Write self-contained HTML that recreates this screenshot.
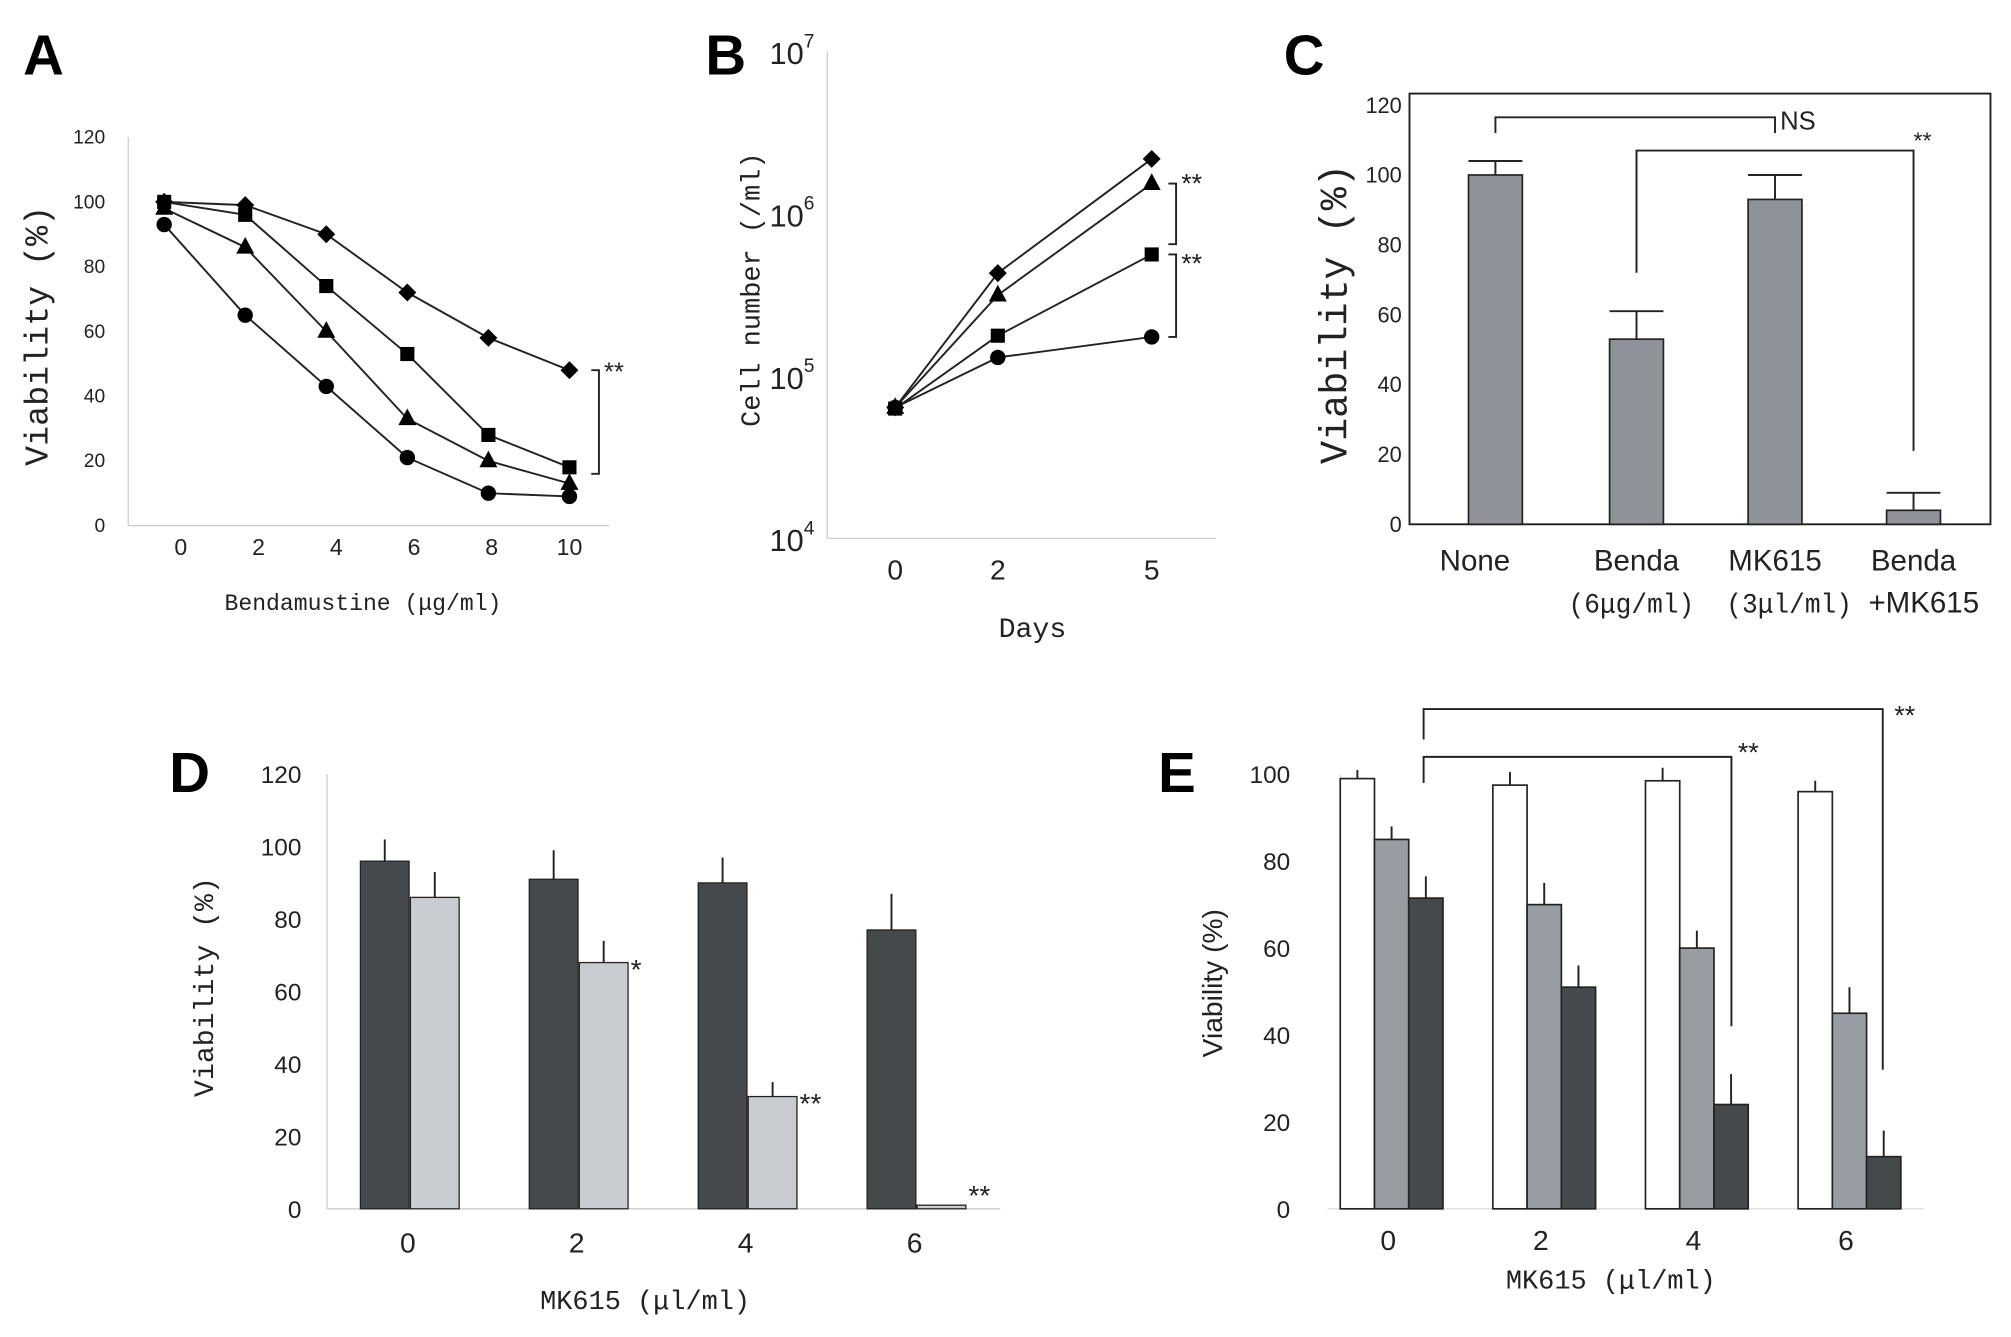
<!DOCTYPE html>
<html><head><meta charset="utf-8">
<style>
html,body{margin:0;padding:0;background:#fff;}
svg{display:block;}
text{font-family:"Liberation Sans","Noto Sans CJK JP",sans-serif;fill:#222;}
.mono{font-family:"Liberation Mono","Noto Sans CJK JP",monospace;}
</style></head>
<body>
<svg id="fig" width="2011" height="1337" viewBox="0 0 1568 1043" preserveAspectRatio="none" xmlns="http://www.w3.org/2000/svg">
<text x="18" y="58" font-size="44" font-weight="bold" style="fill:#000">A</text>
<text x="550" y="58" font-size="44" font-weight="bold" style="fill:#000">B</text>
<text x="1001" y="58" font-size="44" font-weight="bold" style="fill:#000">C</text>
<text x="132" y="618" font-size="44" font-weight="bold" style="fill:#000">D</text>
<text x="903" y="618" font-size="44" font-weight="bold" style="fill:#000">E</text>
<g id="A"></g>
<g id="B"></g>
<g id="C"></g>
<g id="D"></g>
<g id="E"></g>
</svg>
<script>
// Panel A data
const aDoses = [0, 2, 4, 6, 8, 10];
const aDiamond = [100, 99, 90, 72, 58, 48];
const aSquare = [100, 96, 74, 53, 28, 18];
const aTriangle = [98, 86, 60, 33, 20, 13];
const aCircle = [93, 65, 43, 21, 10, 9];
const aTicks = [0, 20, 40, 60, 80, 100, 120];
// Panel B data
const bDays = [0, 2, 5];
const bDiamond = [64000, 430000, 2170000];
const bTriangle = [64000, 315000, 1530000];
const bSquare = [63000, 177000, 560000];
const bCircle = [64000, 130000, 174000];
const bTickExp = [4, 5, 6, 7];
// Panel C data
const cCats = ["None", "Benda", "MK615", "Benda"];
const cSub = ["", "(6μg/ml)", "(3μl/ml)", "+MK615"];
const cVals = [100, 53, 93, 4];
const cErr = [4, 8, 7, 5];
const cTicks = [0, 20, 40, 60, 80, 100, 120];
// Panel D data
const dCats = ["0", "2", "4", "6"];
const dDark = [96, 91, 90, 77];
const dDarkErr = [6, 8, 7, 10];
const dLight = [86, 68, 31, 1];
const dLightErr = [7, 6, 4, 0];
const dStars = ["", "*", "**", "**"];
const dTicks = [0, 20, 40, 60, 80, 100, 120];
// Panel E data
const eCats = ["0", "2", "4", "6"];
const eWhite = [99, 97.5, 98.5, 96];
const eWhiteErr = [2, 3, 3, 2.5];
const eGray = [85, 70, 60, 45];
const eGrayErr = [3, 5, 4, 6];
const eDark = [71.5, 51, 24, 12];
const eDarkErr = [5, 5, 7, 6];
const eTicks = [0, 20, 40, 60, 80, 100];

const NS = "http://www.w3.org/2000/svg";
function mk(parent, tag, attrs, txt) {
  const el = document.createElementNS(NS, tag);
  for (const k in attrs) el.setAttribute(k, attrs[k]);
  if (txt !== undefined) el.textContent = txt;
  parent.appendChild(el);
  return el;
}
function marker(g, shape, x, y) {
  let el;
  if (shape === "diamond") el = mk(g, "polygon", {points: `${x},${y-7} ${x+7},${y} ${x},${y+7} ${x-7},${y}`, fill: "#000"});
  else if (shape === "square") el = mk(g, "rect", {x: x-5.5, y: y-5.5, width: 11, height: 11, fill: "#000"});
  else if (shape === "triangle") el = mk(g, "polygon", {points: `${x},${y-8} ${x+7},${y+5} ${x-7},${y+5}`, fill: "#000"});
  else el = mk(g, "circle", {cx: x, cy: y, r: 6, fill: "#000"});
  
  
}
function line(g, x1, y1, x2, y2, c, w) {
  return mk(g, "line", {x1, y1, x2, y2, stroke: c || "#222", "stroke-width": w || 1.5});
}

// ---------- Panel A ----------
(function(){
  const g = document.getElementById("A");
  const ya = v => 410 - v * 2.525;
  const xa = v => 128 + v * 31.6;
  const xl = v => 141 + v * 30.3;
  line(g, 100, 107, 100, 410, "#ccc", 1);
  line(g, 100, 410, 475, 410, "#ccc", 1);
  aTicks.forEach(t => {
    const el = mk(g, "text", {x: 82, y: ya(t) + 5, "font-size": 15, "text-anchor": "end"}, t);
    
    
  });
  aDoses.forEach(d => {
    const el = mk(g, "text", {x: xl(d), y: 433, "font-size": 18, "text-anchor": "middle"}, d);
    
    
  });
  const series = [[aDiamond, "diamond"], [aSquare, "square"], [aTriangle, "triangle"], [aCircle, "circle"]];
  series.forEach(([vals, shape]) => {
    const pl = mk(g, "polyline", {points: vals.map((v, i) => xa(aDoses[i]) + "," + ya(v)).join(" "), fill: "none", stroke: "#222", "stroke-width": 1.5});
    
    
    vals.forEach((v, i) => marker(g, shape, xa(aDoses[i]), ya(v)));
  });
  const lastD = aDoses.length - 1;
  const bx = 467;
  const br = mk(g, "path", {d: `M${bx-6},${ya(aDiamond[lastD])} H${bx} V${ya(aSquare[lastD]-2)} H${bx-6}`, fill: "none", stroke: "#222", "stroke-width": 1.5});
  
  
  const st = mk(g, "text", {x: 471, y: ya(aDiamond[lastD]) + 8, "font-size": 20}, "**");
  
  
  const xt = mk(g, "text", {x: 283, y: 476, "font-size": 18, "text-anchor": "middle", class: "mono"}, "Bendamustine (μg/ml)");
  
  
  const yt = mk(g, "text", {x: 0, y: 0, "font-size": 26, "text-anchor": "middle", class: "mono", transform: "translate(37,262) rotate(-90)"}, "Viability (%)");
  
  
})();

// ---------- Panel B ----------
(function(){
  const g = document.getElementById("B");
  const yb = v => 420 - (Math.log10(v) - 4) * 126.7;
  const xb = d => 698 + d * 40;
  line(g, 645, 40, 645, 420, "#ccc", 1);
  line(g, 645, 420, 948, 420, "#ccc", 1);
  bTickExp.forEach(e => {
    const t = mk(g, "text", {x: 600, y: 420 - (e - 4) * 126.7 + 10, "font-size": 24});
    
    
    mk(t, "tspan", {}, "10");
    mk(t, "tspan", {dy: -13, "font-size": 15}, e);
  });
  bDays.forEach(d => {
    const el = mk(g, "text", {x: xb(d), y: 452, "font-size": 22, "text-anchor": "middle"}, d);
    
    
  });
  const series = [[bDiamond, "diamond"], [bTriangle, "triangle"], [bSquare, "square"], [bCircle, "circle"]];
  series.forEach(([vals, shape]) => {
    const pl = mk(g, "polyline", {points: vals.map((v, i) => xb(bDays[i]) + "," + yb(v)).join(" "), fill: "none", stroke: "#222", "stroke-width": 1.5});
    
    
    vals.forEach((v, i) => marker(g, shape, xb(bDays[i]), yb(v)));
  });
  const L = bDays.length - 1;
  const b1 = mk(g, "path", {d: `M911,${yb(bTriangle[L])} H917 V${yb(bSquare[L]) - 8} H911`, fill: "none", stroke: "#222", "stroke-width": 1.5});
  
  
  const b2 = mk(g, "path", {d: `M911,${yb(bSquare[L])} H917 V${yb(bCircle[L])} H911`, fill: "none", stroke: "#222", "stroke-width": 1.5});
  
  
  const s1 = mk(g, "text", {x: 921, y: yb(bTriangle[L]) + 7, "font-size": 21}, "**");
  
  
  const s2 = mk(g, "text", {x: 921, y: yb(bSquare[L]) + 14, "font-size": 21}, "**");
  
  
  const xt = mk(g, "text", {x: 805, y: 497, "font-size": 22, "text-anchor": "middle", class: "mono"}, "Days");
  
  
  const yt = mk(g, "text", {x: 0, y: 0, "font-size": 21, "text-anchor": "middle", class: "mono", transform: "translate(592,226) rotate(-90)"}, "Cell number (/ml)");
  
  
})();

// ---------- Panel C ----------
(function(){
  const g = document.getElementById("C");
  const yc = v => 409 - v * 2.725;
  const centers = [1166, 1276, 1384, 1492];
  const subX = [0, 1272, 1395, 1500];
  const fr = mk(g, "rect", {x: 1099, y: 73, width: 453, height: 336, fill: "none", stroke: "#222", "stroke-width": 1.5});
  
  
  cTicks.forEach(t => {
    const el = mk(g, "text", {x: 1093, y: yc(t) + 6, "font-size": 17, "text-anchor": "end"}, t);
    
    
  });
  cVals.forEach((v, i) => {
    const c = centers[i];
    line(g, c, yc(v), c, yc(v + cErr[i]));
    line(g, c - 21, yc(v + cErr[i]), c + 21, yc(v + cErr[i]));
    const r = mk(g, "rect", {x: c - 21, y: yc(v), width: 42, height: yc(0) - yc(v), fill: "#8f9399", stroke: "#222", "stroke-width": 1.3});
    
    
    const l1 = mk(g, "text", {x: c + (i === 0 ? -16 : 0), y: 445, "font-size": 23, "text-anchor": "middle"}, cCats[i]);
    
    
    if (cSub[i]) {
      const attrs = i === 3
        ? {x: subX[i], y: 478, "font-size": 23, "text-anchor": "middle"}
        : {x: subX[i], y: 478, "font-size": 22, "text-anchor": "middle", class: "mono", textLength: 98, lengthAdjust: "spacingAndGlyphs"};
      const l2 = mk(g, "text", attrs, cSub[i]);
      
      
    }
  });
  const n1 = mk(g, "path", {d: `M${centers[0]},${yc(112)} V${yc(116.5)} H${centers[2]} V${yc(112)}`, fill: "none", stroke: "#222", "stroke-width": 1.5});
  
  
  const nt = mk(g, "text", {x: 1388, y: 101, "font-size": 20}, "NS");
  
  
  const n2 = mk(g, "path", {d: `M${centers[1]},${yc(72)} V${yc(107)} H${centers[3]} V${yc(21)}`, fill: "none", stroke: "#222", "stroke-width": 1.5});
  
  
  const s = mk(g, "text", {x: 1492, y: 116, "font-size": 18}, "**");
  
  
  const yt = mk(g, "text", {x: 0, y: 0, "font-size": 30, "text-anchor": "middle", class: "mono", transform: "translate(1050,245) rotate(-90)"}, "Viability (%)");
  
  
})();

// ---------- Panel D ----------
(function(){
  const g = document.getElementById("D");
  const yd = v => 943 - v * 2.825;
  const xd = i => 318 + i * 131.7;
  line(g, 255, 604, 255, 943, "#ccc", 1);
  line(g, 255, 943, 780, 943, "#ccc", 1);
  dTicks.forEach(t => {
    const el = mk(g, "text", {x: 235, y: yd(t) + 7, "font-size": 19, "text-anchor": "end"}, t);
    
    
  });
  dCats.forEach((c, i) => {
    const x = xd(i);
    line(g, x - 18, yd(dDark[i]), x - 18, yd(dDark[i] + dDarkErr[i]));
    const r1 = mk(g, "rect", {x: x - 37, y: yd(dDark[i]), width: 38, height: yd(0) - yd(dDark[i]), fill: "#45494c", stroke: "#222", "stroke-width": 1});
    
    
    if (dLightErr[i] > 0) line(g, x + 21, yd(dLight[i]), x + 21, yd(dLight[i] + dLightErr[i]));
    const r2 = mk(g, "rect", {x: x + 2, y: yd(dLight[i]), width: 38, height: Math.max(yd(0) - yd(dLight[i]), 1), fill: "#c8ccd1", stroke: "#222", "stroke-width": 1});
    
    
    if (dStars[i]) {
      const s = mk(g, "text", {x: x + 42, y: yd(dLight[i]) + (dLight[i] < 5 ? 0 : 13), "font-size": 22}, dStars[i]);
      
      
    }
    const l = mk(g, "text", {x: x, y: 977, "font-size": 22, "text-anchor": "middle"}, c);
    
    
  });
  const xt = mk(g, "text", {x: 503, y: 1021, "font-size": 21, "text-anchor": "middle", class: "mono"}, "MK615 (μl/ml)");
  
  
  const yt = mk(g, "text", {x: 0, y: 0, "font-size": 22, "text-anchor": "middle", class: "mono", transform: "translate(166,770) rotate(-90)"}, "Viability (%)");
  
  
})();

// ---------- Panel E ----------
(function(){
  const g = document.getElementById("E");
  const ye = v => 943 - v * 3.39;
  const xe = i => 1045 + i * 119;
  const bw = 26.7;
  line(g, 1045, 604, 1045, 943, "#ddd", 1);
  line(g, 1035, 943, 1500, 943, "#ddd", 1);
  eTicks.forEach(t => {
    const el = mk(g, "text", {x: 1006, y: ye(t) + 7, "font-size": 19, "text-anchor": "end"}, t);
    
    
  });
  const sets = [[eWhite, eWhiteErr, "#ffffff", "white"], [eGray, eGrayErr, "#999ca2", "gray"], [eDark, eDarkErr, "#45494c", "dark"]];
  eCats.forEach((c, i) => {
    sets.forEach(([vals, errs, col, nm], k) => {
      const x0 = xe(i) + k * bw;
      line(g, x0 + bw / 2, ye(vals[i]), x0 + bw / 2, ye(vals[i] + errs[i]));
      const r = mk(g, "rect", {x: x0, y: ye(vals[i]), width: bw, height: ye(0) - ye(vals[i]), fill: col, stroke: "#222", "stroke-width": 1.3});
      
      
    });
    const l = mk(g, "text", {x: xe(i) + bw * 1.4, y: 975, "font-size": 22, "text-anchor": "middle"}, c);
    
    
  });
  const b1 = mk(g, "path", {d: `M1110,${ye(98)} V${ye(104)} H1350 V${ye(42)}`, fill: "none", stroke: "#222", "stroke-width": 1.5});
  
  
  const b2 = mk(g, "path", {d: `M1110,${ye(108)} V${ye(115)} H1468 V${ye(32)}`, fill: "none", stroke: "#222", "stroke-width": 1.5});
  
  
  const s1 = mk(g, "text", {x: 1355, y: 594, "font-size": 21}, "**");
  
  
  const s2 = mk(g, "text", {x: 1477, y: 565, "font-size": 21}, "**");
  
  
  const xt = mk(g, "text", {x: 1256, y: 1005, "font-size": 21, "text-anchor": "middle", class: "mono"}, "MK615 (μl/ml)");
  
  
  const yt = mk(g, "text", {x: 0, y: 0, "font-size": 22, "text-anchor": "middle", transform: "translate(953,767) rotate(-90)"}, "Viability (%)");
  
  
})();
</script>
</body></html>
